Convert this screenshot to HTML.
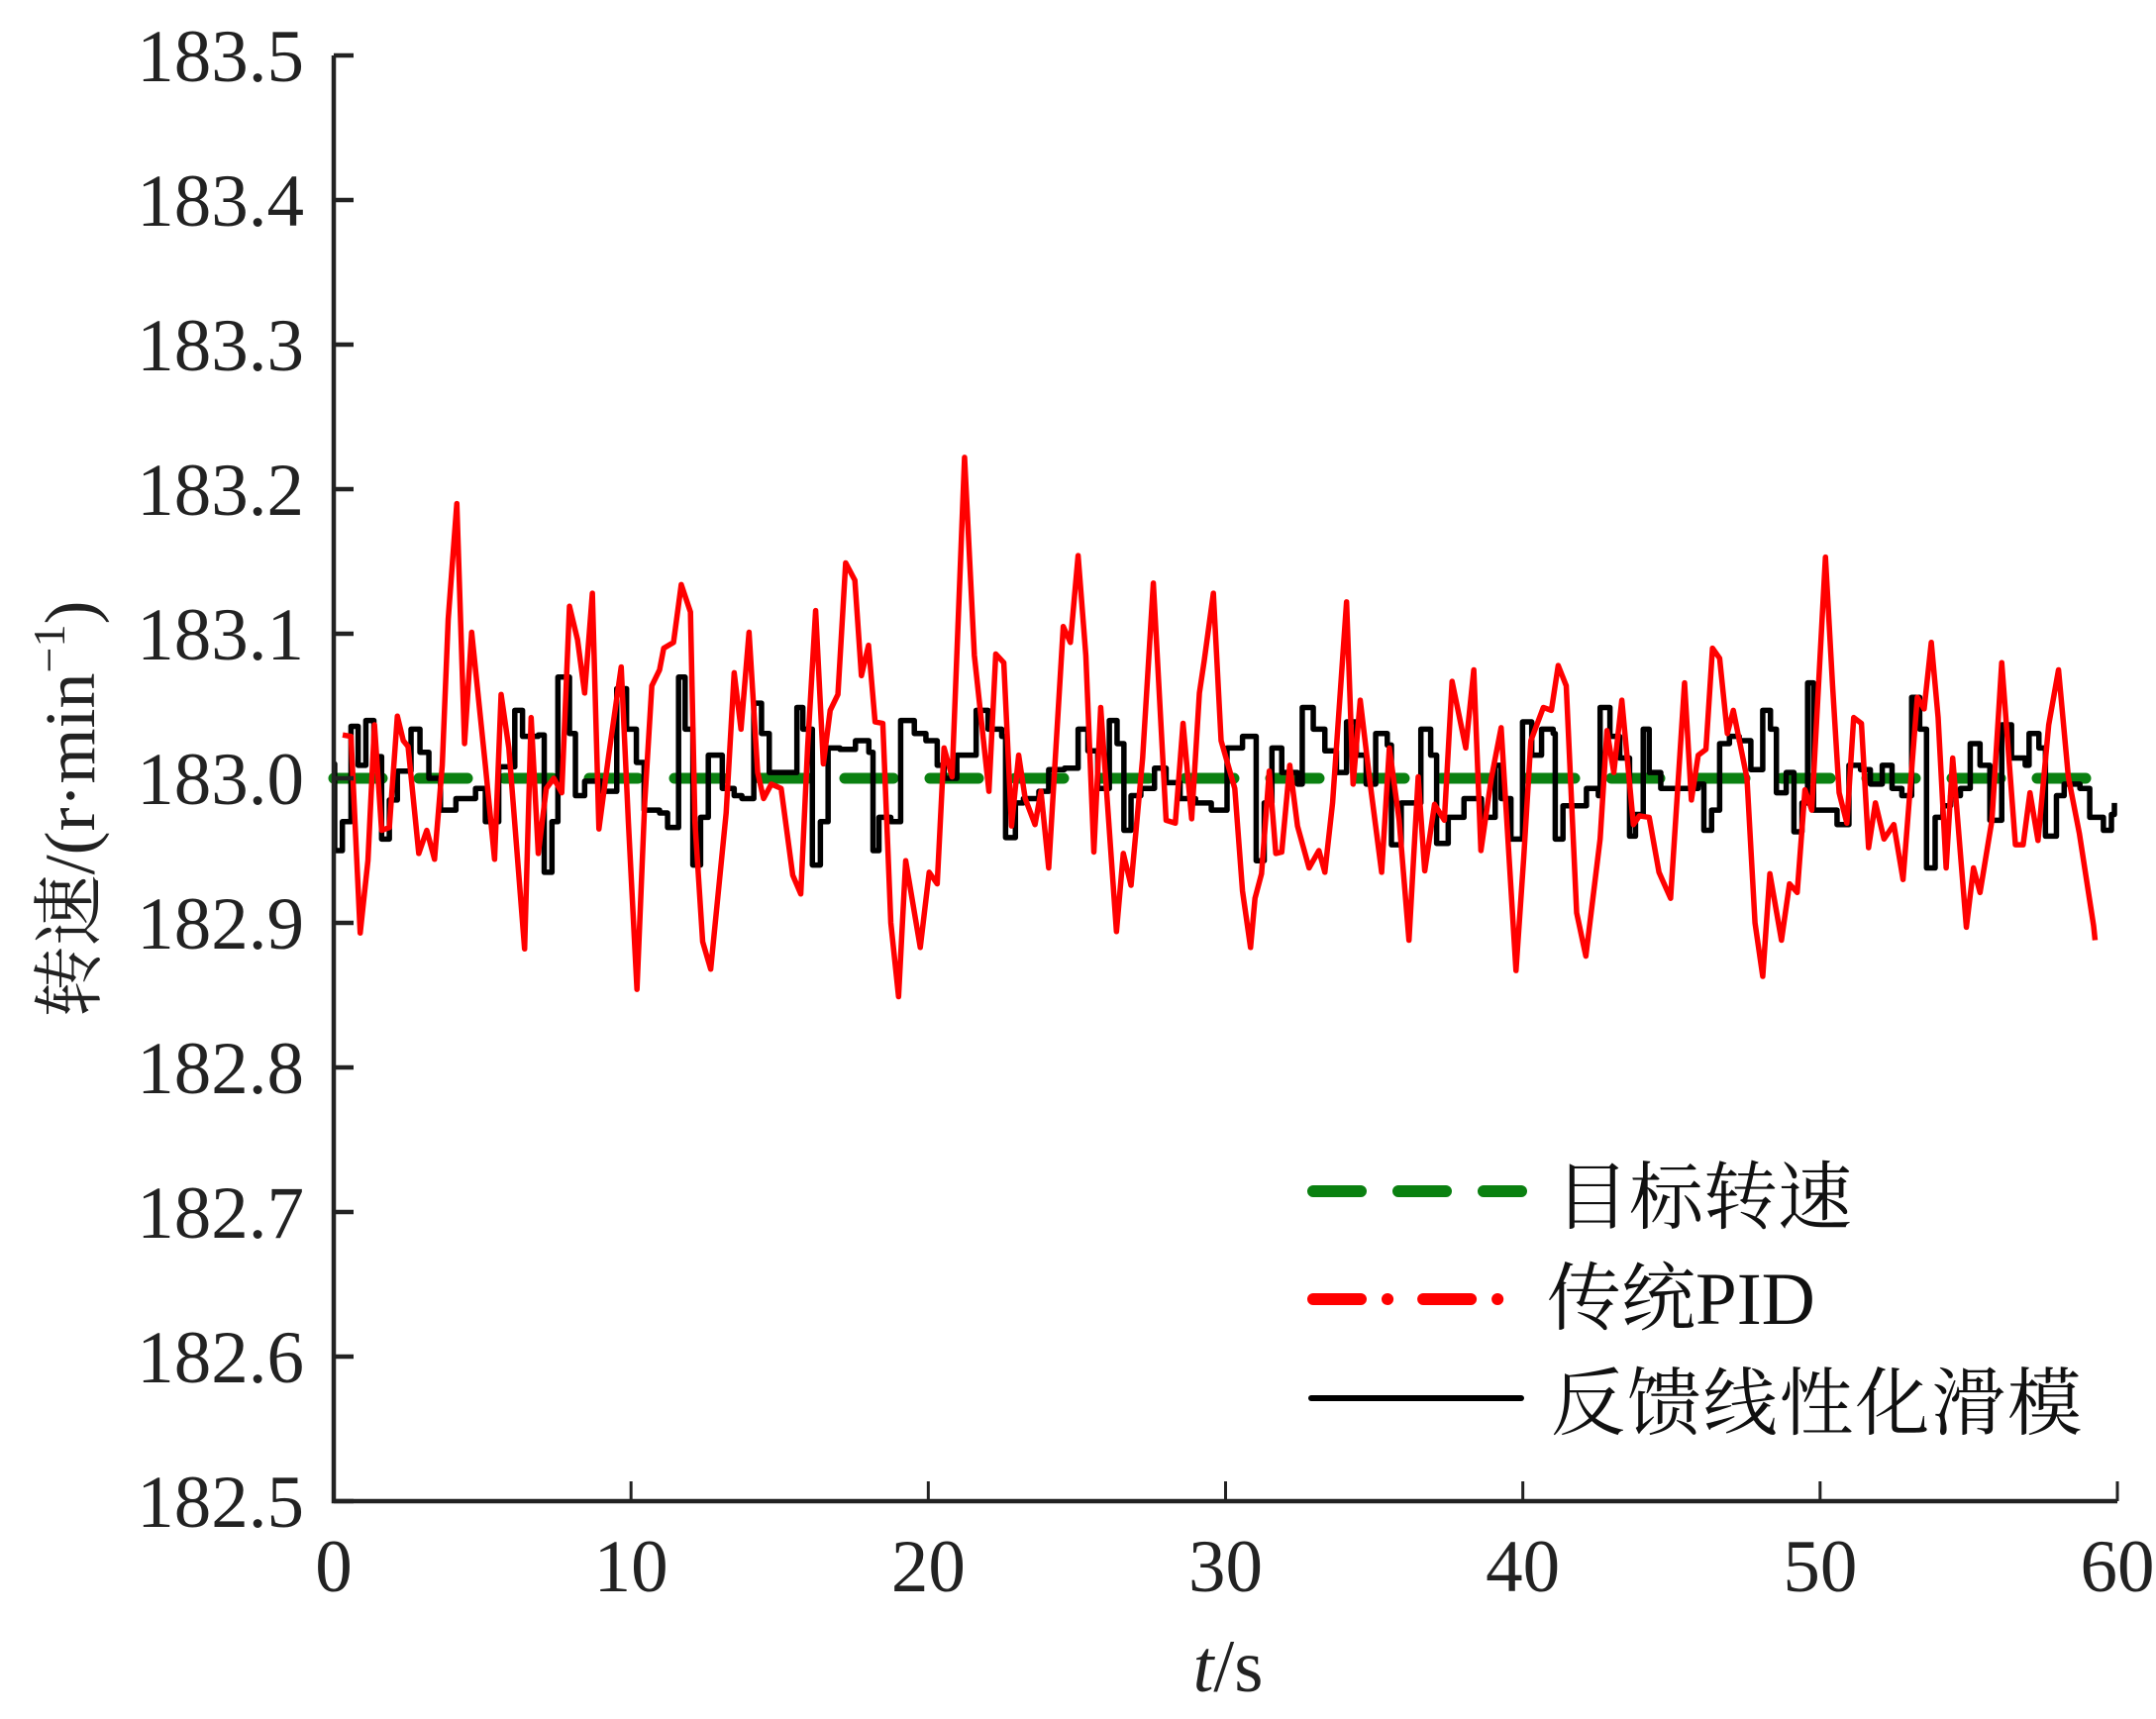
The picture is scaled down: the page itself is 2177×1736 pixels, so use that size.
<!DOCTYPE html>
<html><head><meta charset="utf-8"><style>
html,body{margin:0;padding:0;background:#fff;}
svg{display:block;}
.tk{font-family:"Liberation Serif","Noto Serif CJK SC",serif;font-size:75px;fill:#222;}
.lg{font-family:"Liberation Serif","Noto Serif CJK SC",serif;font-size:75px;fill:#111;}
</style></head><body>
<svg id="chart" width="2177" height="1736" viewBox="0 0 2177 1736" xmlns="http://www.w3.org/2000/svg">
<g id="series"></g>
<g id="axes"></g>
<text class="tk" x="1240" y="1708" text-anchor="middle"><tspan font-style="italic">t</tspan>/s</text>
<text class="tk" transform="translate(95,817) rotate(-90)" text-anchor="middle" style="font-size:72px">转速/(r·min<tspan dy="-30" style="font-size:46px">−1</tspan><tspan dy="30">)</tspan></text>
<g>
 <line x1="1326" y1="1203" x2="1536" y2="1203" stroke="#0a8010" stroke-width="12" stroke-linecap="round" stroke-dasharray="48 38"/>
 <text class="lg" x="1570" y="1235">目标转速</text>
 <line x1="1326" y1="1312" x2="1536" y2="1312" stroke="#f00" stroke-width="12" stroke-linecap="round" stroke-dasharray="48 27 0.1 36"/>
 <text class="lg" x="1562" y="1337">传统PID</text>
 <line x1="1324" y1="1412" x2="1536" y2="1412" stroke="#000" stroke-width="6" stroke-linecap="round"/>
 <text class="lg" x="1566" y="1443" textLength="536">反馈线性化滑模</text>
</g>
</svg>
<script>
const xTicks=[0,10,20,30,40,50,60];
const yTicks=[182.5,182.6,182.7,182.8,182.9,183.0,183.1,183.2,183.3,183.4,183.5];
const yTickLabels=["182.5","182.6","182.7","182.8","182.9","183.0","183.1","183.2","183.3","183.4","183.5"];
const targetT=[0,59.3];
const targetV=[183.0,183.0];
const pidT=[0.3,0.58,0.89,1.15,1.37,1.61,1.87,2.14,2.34,2.5,2.86,3.13,3.39,3.65,3.85,4.14,4.4,4.64,5.1,5.41,5.63,5.89,6.42,6.64,6.88,7.15,7.4,7.67,7.93,8.2,8.44,8.7,8.92,9.25,9.67,9.91,10.2,10.46,10.7,10.96,11.1,11.43,11.69,12.0,12.15,12.41,12.68,13.2,13.47,13.7,13.97,14.26,14.46,14.72,15.05,15.44,15.71,15.94,16.21,16.47,16.7,16.96,17.22,17.53,17.75,17.99,18.21,18.47,18.74,19.0,19.24,19.73,20.03,20.3,20.53,20.8,21.22,21.55,22.04,22.27,22.54,22.8,23.04,23.26,23.59,23.79,24.05,24.54,24.78,25.04,25.3,25.57,25.8,26.33,26.56,26.82,27.21,27.57,28.0,28.31,28.57,28.86,29.12,29.28,29.59,29.85,30.31,30.57,30.84,30.99,31.21,31.47,31.69,31.89,32.16,32.42,32.81,33.14,33.34,33.6,34.07,34.29,34.53,34.86,35.25,35.51,35.84,36.17,36.48,36.7,37.03,37.36,37.62,38.08,38.35,38.59,38.94,39.27,39.77,40.03,40.27,40.69,40.96,41.19,41.46,41.81,42.12,42.6,42.83,43.06,43.33,43.72,43.92,44.25,44.58,44.97,45.44,45.67,45.9,46.16,46.38,46.62,46.88,47.08,47.54,47.81,48.07,48.31,48.7,48.97,49.23,49.49,49.72,50.18,50.42,50.64,50.9,51.13,51.39,51.63,51.86,52.15,52.48,52.79,53.27,53.5,53.74,53.97,54.24,54.46,54.92,55.16,55.38,55.78,56.11,56.57,56.83,57.06,57.33,57.69,58.02,58.35,58.72,59.2,59.25];
const pidV=[183.03,183.029,182.893,182.943,183.037,182.964,182.966,183.043,183.026,183.022,182.948,182.964,182.944,183.009,183.11,183.19,183.024,183.101,183.009,182.944,183.058,183.021,182.882,183.042,182.948,182.993,183.0,182.99,183.119,183.096,183.059,183.128,182.965,183.016,183.077,182.97,182.854,182.983,183.064,183.075,183.09,183.094,183.134,183.115,182.97,182.887,182.868,182.976,183.073,183.034,183.101,183.004,182.986,182.996,182.993,182.933,182.92,183.021,183.116,183.01,183.047,183.058,183.149,183.137,183.071,183.092,183.039,183.038,182.9,182.849,182.943,182.883,182.935,182.927,183.021,183.001,183.222,183.085,182.991,183.086,183.08,182.967,183.016,182.986,182.968,182.991,182.938,183.105,183.094,183.154,183.085,182.949,183.049,182.894,182.948,182.926,183.014,183.135,182.971,182.969,183.038,182.972,183.059,183.081,183.128,183.026,182.993,182.922,182.883,182.917,182.934,183.005,182.948,182.949,183.009,182.967,182.938,182.95,182.935,182.983,183.122,182.996,183.054,182.997,182.935,183.021,182.971,182.888,183.001,182.936,182.982,182.971,183.067,183.021,183.075,182.95,183.0,183.035,182.867,182.945,183.026,183.049,183.047,183.078,183.064,182.907,182.877,182.958,183.033,183.004,183.054,182.968,182.974,182.973,182.935,182.917,183.066,182.985,183.016,183.02,183.09,183.083,183.031,183.047,183.0,182.9,182.863,182.934,182.888,182.927,182.921,182.992,182.978,183.153,183.064,182.99,182.969,183.042,183.038,182.952,182.983,182.958,182.968,182.93,183.056,183.048,183.094,183.042,182.938,183.014,182.897,182.938,182.921,182.971,183.08,182.954,182.954,182.99,182.957,183.037,183.075,183.001,182.962,182.898,182.888];
const flsT=[0,0.03,0.29,0.58,0.82,1.08,1.35,1.61,1.87,2.14,2.6,2.9,3.2,3.59,4.11,4.5,4.77,5.1,5.55,6.09,6.35,6.88,7.08,7.34,7.54,7.93,8.13,8.44,9.0,9.52,9.85,10.18,10.44,10.96,11.23,11.6,11.82,12.08,12.34,12.6,13.07,13.47,13.73,14.13,14.39,14.65,15.05,15.58,15.78,16.1,16.37,16.63,17.03,17.55,18.0,18.14,18.34,18.74,19.07,19.53,19.92,20.3,20.53,20.96,21.48,21.61,22.01,22.47,22.6,22.93,23.2,23.72,24.05,24.58,25.04,25.37,25.7,26.09,26.35,26.58,26.82,27.15,27.61,28.0,28.47,28.99,29.52,29.98,30.05,30.57,31.03,31.3,31.56,31.89,32.42,32.58,32.95,33.34,33.73,34.07,34.4,34.73,35.05,35.44,35.58,35.91,36.17,36.57,36.9,37.1,37.49,38.02,38.61,39.07,39.27,39.6,39.99,40.3,40.63,41.02,41.09,41.35,41.88,42.14,42.54,42.6,42.93,43.26,43.59,43.79,44.05,44.25,44.64,45.04,45.44,45.9,46.09,46.35,46.62,46.95,47.28,47.67,48.0,48.07,48.33,48.53,48.86,49.12,49.39,49.58,49.78,50.05,50.57,50.97,51.36,51.69,52.09,52.42,52.75,53.08,53.35,53.58,53.87,54.13,54.39,54.72,55.05,55.38,55.71,56.11,56.44,56.9,57.03,57.36,57.58,57.95,58.21,58.74,59.07,59.53,59.8,59.9];
const flsV=[183.01,182.95,182.97,183.036,183.009,183.04,183.015,182.958,182.985,183.005,183.034,183.018,183.0,182.978,182.986,182.986,182.993,182.97,183.008,183.047,183.029,183.03,182.935,182.97,183.07,183.031,182.988,182.998,182.991,183.062,183.034,183.011,182.978,182.976,182.966,183.07,183.034,182.94,182.973,183.016,182.993,182.988,182.986,183.052,183.031,183.004,183.004,183.049,183.034,182.94,182.97,183.021,183.02,183.026,183.018,182.95,182.973,182.97,183.04,183.031,183.026,183.009,183.0,183.016,183.016,183.047,183.034,183.029,182.959,182.983,182.986,182.991,183.006,183.007,183.034,183.019,182.993,183.04,183.024,182.964,182.988,182.993,183.007,182.997,182.986,182.983,182.978,182.978,183.021,183.029,182.943,182.983,183.021,183.004,182.996,183.049,183.034,183.019,183.004,183.039,183.016,182.996,183.031,183.023,182.954,182.983,182.983,183.034,183.016,182.955,182.973,182.986,182.973,183.009,182.986,182.958,183.039,183.016,183.034,183.031,182.958,182.981,182.981,182.993,182.988,183.049,183.029,183.014,182.96,182.975,183.034,183.004,182.993,182.993,182.993,182.996,182.964,182.978,183.024,183.029,183.026,183.006,183.006,183.047,183.034,182.99,183.004,182.963,182.983,183.066,182.978,182.978,182.968,183.009,183.006,182.996,183.009,182.993,182.988,183.056,183.034,182.938,182.973,182.981,182.988,182.993,183.024,183.009,182.971,183.037,183.014,183.009,183.031,183.021,182.96,182.988,182.996,182.993,182.973,182.964,182.975,182.983];

const X0=337,X1=2138,Y0=1516,Y1=56;
const xs=t=>X0+(t-0)/(60-0)*(X1-X0);
const ys=v=>Y0-(v-182.5)/(183.5-182.5)*(Y0-Y1);
const NS="http://www.w3.org/2000/svg";
const series=document.getElementById('series');
const axes=document.getElementById('axes');
function mk(tag,parent){const e=document.createElementNS(NS,tag);parent.appendChild(e);return e;}

let g=mk('path',series);


g.setAttribute('d','M'+targetT.map((t,i)=>xs(t)+','+ys(targetV[i])).join('L'));
g.setAttribute('stroke','#0a8010');g.setAttribute('stroke-width','11');g.setAttribute('fill','none');
g.setAttribute('stroke-linecap','round');g.setAttribute('stroke-dasharray','49 37');

let d='M'+xs(flsT[0])+','+ys(flsV[0]);
for(let i=1;i<flsT.length;i++){d+='H'+xs(flsT[i])+'V'+ys(flsV[i]);}
let b=mk('path',series);


b.setAttribute('d',d);b.setAttribute('stroke','#000');b.setAttribute('stroke-width','5.5');b.setAttribute('fill','none');b.setAttribute('stroke-linejoin','round');

let r=mk('path',series);


r.setAttribute('d','M'+pidT.map((t,i)=>xs(t)+','+ys(pidV[i])).join('L'));
r.setAttribute('stroke','#f00');r.setAttribute('stroke-width','5.5');r.setAttribute('fill','none');r.setAttribute('stroke-linejoin','round');

let ax=mk('path',axes);


ax.setAttribute('d','M'+X0+','+Y1+'V'+Y0+'H'+X1);
ax.setAttribute('stroke','#222');ax.setAttribute('stroke-width','4.5');ax.setAttribute('fill','none');
xTicks.forEach(t=>{
  let l=mk('line',axes);
  
  
  l.setAttribute('x1',xs(t));l.setAttribute('x2',xs(t));l.setAttribute('y1',Y0);l.setAttribute('y2',Y0-20);
  l.setAttribute('stroke','#222');l.setAttribute('stroke-width','3');
  let tx=mk('text',axes);
  
  
  tx.setAttribute('class','tk');tx.setAttribute('x',xs(t));tx.setAttribute('y',1607);tx.setAttribute('text-anchor','middle');
  tx.textContent=String(t);
});
yTicks.forEach((v,i)=>{
  let l=mk('line',axes);
  
  
  l.setAttribute('x1',X0);l.setAttribute('x2',X0+20);l.setAttribute('y1',ys(v));l.setAttribute('y2',ys(v));
  l.setAttribute('stroke','#222');l.setAttribute('stroke-width','4.5');
  let tx=mk('text',axes);
  
  
  tx.setAttribute('class','tk');tx.setAttribute('x',307);tx.setAttribute('y',ys(v)+26);tx.setAttribute('text-anchor','end');
  tx.textContent=yTickLabels[i];
});
</script>
</body></html>
